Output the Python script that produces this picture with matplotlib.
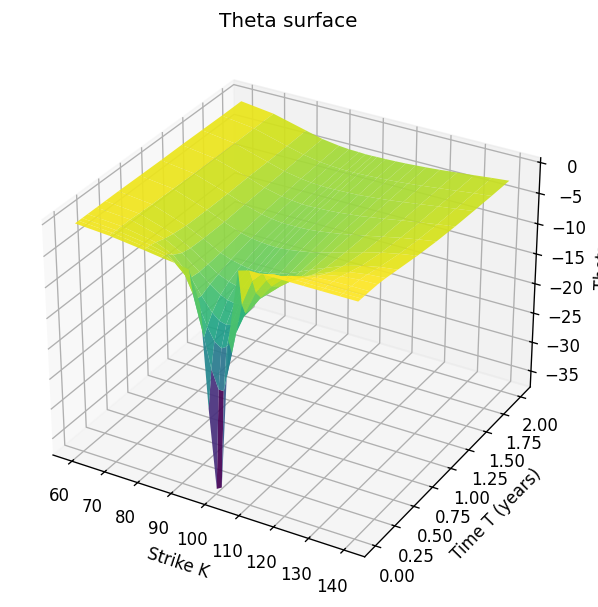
import matplotlib
matplotlib.use("Agg")
import matplotlib.pyplot as plt
import numpy as np

strikes = [60, 70, 80, 85, 90, 93, 96, 98, 100, 101.5, 104, 107, 110, 113, 116, 120, 125, 130, 135, 140]
maturities = [0.01, 0.05, 0.09, 0.15, 0.25, 0.35, 0.5, 0.75, 1.0, 1.25, 1.5, 1.75, 2.0]

theta_t001 = [-0.4, -0.8, -1.5, -1.9, -2.2, -2.5, -7.4, -24.0, -37.0, -36.5, -12.0, -0.5, 0, 0, 0, 0, 0, 0, 0, 0]
theta_t005 = [-0.4, -0.8, -1.6, -2.0, -3.2, -6.8, -13.3, -18.0, -21.0, -21.0, -14.5, -6.3, -2.1, -0.5, -0.1, 0, 0, 0, 0, 0]
theta_t009 = [-0.4, -0.8, -1.6, -2.3, -4.9, -8.1, -12.0, -14.0, -14.8, -14.3, -12.0, -8.1, -4.4, -2.0, -0.8, -0.15, 0, 0, 0, 0]
theta_t015 = [-0.4, -0.8, -1.8, -3.0, -5.8, -8.2, -10.4, -11.4, -11.7, -11.5, -10.4, -8.2, -5.8, -3.6, -2.1, -0.85, -0.2, -0.05, 0, 0]
theta_t025 = [-0.4, -0.8, -2.3, -3.8, -6.0, -7.5, -8.7, -9.2, -9.4, -9.3, -8.8, -7.7, -6.2, -4.7, -3.4, -2.0, -0.93, -0.37, -0.13, -0.04]
theta_t035 = [-0.4, -0.9, -2.6, -4.1, -5.9, -7.0, -7.7, -8.0, -8.1, -8.0, -7.7, -7.1, -6.1, -5.06, -4.0, -2.8, -1.6, -0.84, -0.4, -0.18]
theta_t050 = [-0.4, -1.0, -2.9, -4.2, -5.7, -6.3, -6.7, -6.9, -7.0, -6.9, -6.75, -6.4, -5.8, -5.07, -4.3, -3.4, -2.3, -1.5, -0.9, -0.53]
theta_t075 = [-0.45, -1.1, -3.0, -4.2, -5.2, -5.6, -5.8, -5.9, -5.95, -5.9, -5.75, -5.5, -5.2, -4.8, -4.3, -3.65, -2.87, -2.15, -1.57, -1.1]
theta_t100 = [-0.5, -1.2, -3.0, -4.0, -4.8, -5.1, -5.3, -5.3, -5.3, -5.27, -5.2, -5.0, -4.75, -4.48, -4.16, -3.7, -3.1, -2.5, -2.0, -1.54]
theta_t125 = [-0.5, -1.25, -2.9, -3.85, -4.5, -4.7, -4.88, -4.9, -4.85, -4.82, -4.76, -4.63, -4.44, -4.26, -4.0, -3.65, -3.17, -2.7, -2.26, -1.84]
theta_t150 = [-0.55, -1.3, -2.9, -3.7, -4.2, -4.4, -4.5, -4.53, -4.5, -4.48, -4.42, -4.36, -4.2, -4.05, -3.87, -3.57, -3.18, -2.78, -2.4, -2.03]
theta_t175 = [-0.6, -1.3, -2.8, -3.5, -4.0, -4.14, -4.24, -4.27, -4.26, -4.24, -4.19, -4.1, -4.0, -3.89, -3.73, -3.5, -3.17, -2.84, -2.5, -2.2]
theta_t200 = [-0.6, -1.3, -2.7, -3.4, -3.8, -3.95, -4.0, -4.06, -4.05, -4.02, -4.0, -3.94, -3.86, -3.75, -3.64, -3.45, -3.17, -2.88, -2.58, -2.31]

theta_rows = [
    theta_t001, theta_t005, theta_t009, theta_t015, theta_t025, theta_t035, theta_t050,
    theta_t075, theta_t100, theta_t125, theta_t150, theta_t175, theta_t200,
]

K, T = np.meshgrid(strikes, maturities)
Z = np.array(theta_rows)

fig = plt.figure(figsize=(598 / 120, 607 / 120), dpi=120)
ax = fig.add_axes([0.016, 0.025, 0.933, 0.914], projection="3d")
ax.plot_surface(K, T, Z, cmap="viridis", rstride=1, cstride=1, alpha=0.92)
ax.set_title("Theta surface")
ax.set_xlabel("Strike K")
ax.set_ylabel("Time T (years)")
ax.set_zlabel("Theta")
fig.savefig("out.png", dpi=120)
